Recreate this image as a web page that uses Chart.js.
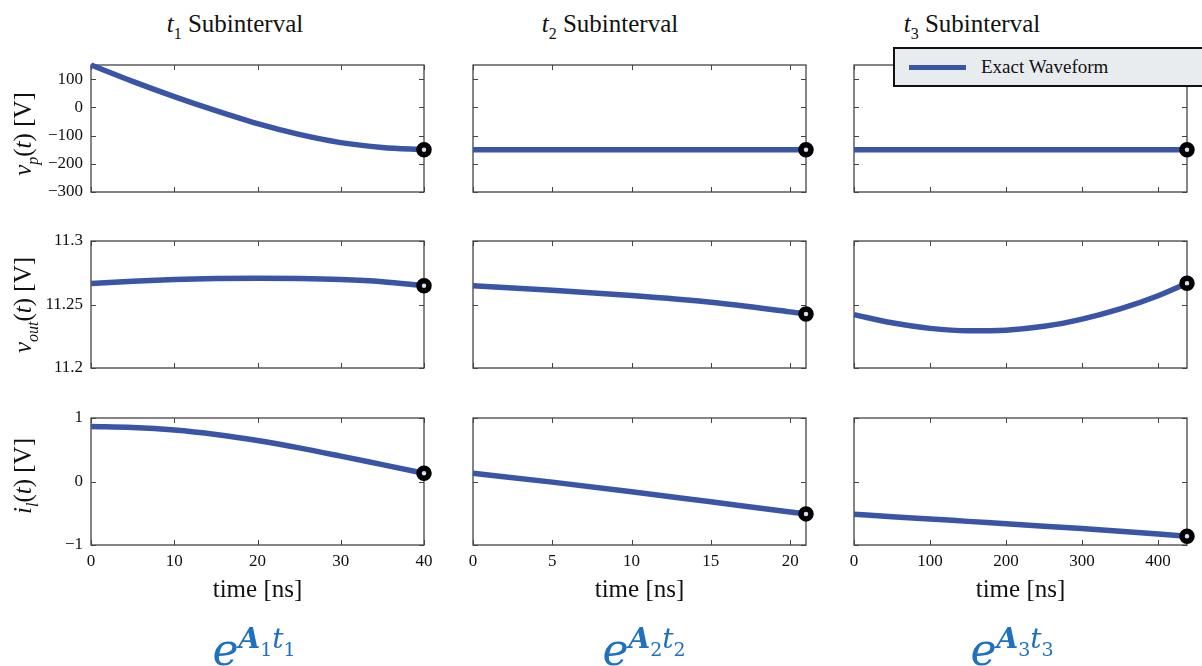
<!DOCTYPE html>
<html>
<head>
<meta charset="utf-8">
<script src="https://cdn.jsdelivr.net/npm/chart.js@4.4.1/dist/chart.umd.min.js"></script>
<style>
  body { margin: 0; width: 1202px; height: 666px; overflow: hidden; position: relative; background: #fff;
         font-family: "Liberation Serif", "Times New Roman", serif; color: #111; }
  canvas { position: absolute; }
  .txt { position: absolute; white-space: nowrap; line-height: 30px; font-size: 25px; transform: translateX(-50%); }
  .ylab { position: absolute; white-space: nowrap; line-height: 30px; font-size: 25px;
          transform: translate(-50%, -50%) rotate(-90deg); }
  .sb { font-size: 16px; position: relative; top: 7px; }
  .fx { position: absolute; top: 628px; white-space: nowrap; transform: translateX(-50%); color: #1e70c0;
        font-family: "DejaVu Serif", serif; font-style: italic; line-height: 44px; }
  .fx .e { font-size: 44px; }
  .fx .s1 { font-size: 28px; font-weight: bold; position: relative; top: -17px; }
  .fx .s3 { font-size: 28px; position: relative; top: -17px; }
  .fx .s2 { font-size: 19px; font-style: normal; position: relative; top: -9px; }
  #legend { position: absolute; left: 893px; top: 47px; width: 330px; height: 36px; background: #e9ecef;
            border: 2px solid #111; }
  #legend .ln { position: absolute; left: 14px; top: 16px; width: 57px; height: 5px; background: #3a55a5; }
  #legend .lt { position: absolute; left: 86px; top: 6px; font-size: 19px; line-height: 24px; }
</style>
</head>
<body>
<script>
// time samples [ns] for each subinterval
const t1 = [0, 5, 10, 15, 20, 25, 30, 35, 40];
const t2 = [0, 5, 10, 15, 20, 21];
const t3 = [0, 50, 100, 150, 200, 250, 300, 350, 400, 438];

// v_p(t) [V]
const vp1 = [150, 92, 38, -12, -58, -96, -125, -142, -150];
const vp2 = [-150, -150, -150, -150, -150, -150];
const vp3 = [-150, -150, -150, -150, -150, -150, -150, -150, -150, -150];

// v_out(t) [V]
const vout1 = [11.2665, 11.2683, 11.2696, 11.2704, 11.2707, 11.2705, 11.2697, 11.2680, 11.2648];
const vout2 = [11.2648, 11.2612, 11.2570, 11.2517, 11.2442, 11.2426];
const vout3 = [11.2420, 11.2356, 11.2312, 11.2293, 11.2298, 11.2328, 11.2385, 11.2465, 11.2569, 11.2667];

// i_l(t)
const il1 = [0.865, 0.85, 0.81, 0.74, 0.645, 0.53, 0.40, 0.265, 0.13];
const il2 = [0.13, -0.01, -0.16, -0.32, -0.48, -0.51];
const il3 = [-0.515, -0.555, -0.59, -0.628, -0.665, -0.703, -0.742, -0.782, -0.825, -0.862];

// axes
const xMax = [40, 21, 438];
const xTicks = [[0, 10, 20, 30, 40], [0, 5, 10, 15, 20], [0, 100, 200, 300, 400]];
const yRange = [[-300, 150], [11.2, 11.3], [-1, 1]];
const yTicks = [[-300, -200, -100, 0, 100], [11.2, 11.25, 11.3], [-1, 0, 1]];

const times = [t1, t2, t3];
const rows = [[vp1, vp2, vp3], [vout1, vout2, vout3], [il1, il2, il3]];

const titles = ['1', '2', '3'];
const yLabels = [
  '<i>v</i><span class="sb"><i>p</i></span>(<i>t</i>) [V]',
  '<i>v</i><span class="sb"><i>out</i></span>(<i>t</i>) [V]',
  '<i>i</i><span class="sb"><i>l</i></span>(<i>t</i>) [V]'
];

// layout
const colLeft = [91, 473, 854];
const rowTop = [65, 241, 418];
const plotW = 333, plotH = 127;
const padL = 60, padT = 20, padR = 20, padB = 30;
const lineColor = '#3a55a5';
const tickFont = { family: '"Liberation Serif", serif', size: 17 };

const framePlugin = {
  id: 'frame',
  beforeDatasetsDraw(chart) {
    const c = chart.ctx, a = chart.chartArea;
    const x = chart.scales.x, y = chart.scales.y;
    c.save();
    c.strokeStyle = '#444';
    c.lineWidth = 1.3;
    c.strokeRect(a.left, a.top, a.right - a.left, a.bottom - a.top);
    c.lineWidth = 1;
    c.beginPath();
    x.ticks.forEach(tk => {
      const px = Math.round(x.getPixelForValue(tk.value)) + 0.5;
      c.moveTo(px, a.bottom); c.lineTo(px, a.bottom - 5);
      c.moveTo(px, a.top); c.lineTo(px, a.top + 5);
    });
    y.ticks.forEach(tk => {
      const py = Math.round(y.getPixelForValue(tk.value)) + 0.5;
      c.moveTo(a.left, py); c.lineTo(a.left + 5, py);
      c.moveTo(a.right, py); c.lineTo(a.right - 5, py);
    });
    c.stroke();
    c.restore();
  }
};

function makePanel(r, col) {
  const cv = document.createElement('canvas');
  cv.width = plotW + padL + padR;
  cv.height = plotH + padT + padB;
  cv.style.left = (colLeft[col] - padL) + 'px';
  cv.style.top = (rowTop[r] - padT) + 'px';
  document.body.appendChild(cv);

  const xs = times[col];
  const ys = rows[r][col];
  const last = xs.length - 1;

  new Chart(cv.getContext('2d'), {
    type: 'line',
    data: {
      datasets: [{
        data: xs.map((t, i) => ({ x: t, y: ys[i] })),
        borderColor: lineColor,
        borderWidth: 5.5,
        borderCapStyle: 'butt',
        cubicInterpolationMode: 'monotone',
        pointRadius: c => c.dataIndex === last ? 5 : 0,
        pointHoverRadius: 0,
        pointBorderWidth: 5.5,
        pointBorderColor: '#000',
        pointBackgroundColor: '#d6def0',
        clip: false
      }]
    },
    options: {
      responsive: false,
      animation: false,
      devicePixelRatio: 1,
      layout: { padding: { left: 0, top: padT, right: padR, bottom: 0 } },
      plugins: { legend: { display: false }, tooltip: { enabled: false } },
      scales: {
        x: {
          type: 'linear', min: 0, max: xMax[col],
          afterBuildTicks: s => { s.ticks = xTicks[col].map(v => ({ value: v })); },
          afterFit: s => { s.height = padB; },
          grid: { display: false, drawTicks: false },
          border: { display: false },
          ticks: { display: r === 2, font: tickFont, color: '#111', padding: 6, maxRotation: 0, autoSkip: false }
        },
        y: {
          type: 'linear', min: yRange[r][0], max: yRange[r][1],
          afterBuildTicks: s => { s.ticks = yTicks[r].map(v => ({ value: v })); },
          afterFit: s => { s.width = padL; },
          grid: { display: false, drawTicks: false },
          border: { display: false },
          ticks: {
            display: col === 0, font: tickFont, color: '#111', padding: 8, autoSkip: false,
            callback: v => String(v).replace('-', '\u2212')
          }
        }
      }
    },
    plugins: [framePlugin]
  });
}

for (let r = 0; r < 3; r++) {
  for (let col = 0; col < 3; col++) makePanel(r, col);
}

// column titles, x labels, formulas
const titleX = [235, 610, 972];
const fxX = [254, 644, 1012];
for (let col = 0; col < 3; col++) {
  const cx = colLeft[col] + plotW / 2;
  let d = document.createElement('div');
  d.className = 'txt';
  d.style.left = titleX[col] + 'px';
  d.style.top = '9px';
  d.innerHTML = '<i>t</i><span class="sb">' + titles[col] + '</span> Subinterval';
  document.body.appendChild(d);

  d = document.createElement('div');
  d.className = 'txt';
  d.style.left = cx + 'px';
  d.style.top = '574px';
  d.textContent = 'time [ns]';
  document.body.appendChild(d);

  d = document.createElement('div');
  d.className = 'fx';
  d.style.left = fxX[col] + 'px';
  d.innerHTML = '<span class="e">e</span><span class="s1">A</span><span class="s2">' + titles[col] +
    '</span><span class="s3">t</span><span class="s2">' + titles[col] + '</span>';
  document.body.appendChild(d);
}

// y axis labels
const yLabOff = [5, 0, -6];
for (let r = 0; r < 3; r++) {
  const d = document.createElement('div');
  d.className = 'ylab';
  d.style.left = '24px';
  d.style.top = (rowTop[r] + plotH / 2 + yLabOff[r]) + 'px';
  d.innerHTML = yLabels[r];
  document.body.appendChild(d);
}

// legend
const lg = document.createElement('div');
lg.id = 'legend';
lg.innerHTML = '<div class="ln"></div><div class="lt">Exact Waveform</div>';
document.body.appendChild(lg);
</script>
</body>
</html>
